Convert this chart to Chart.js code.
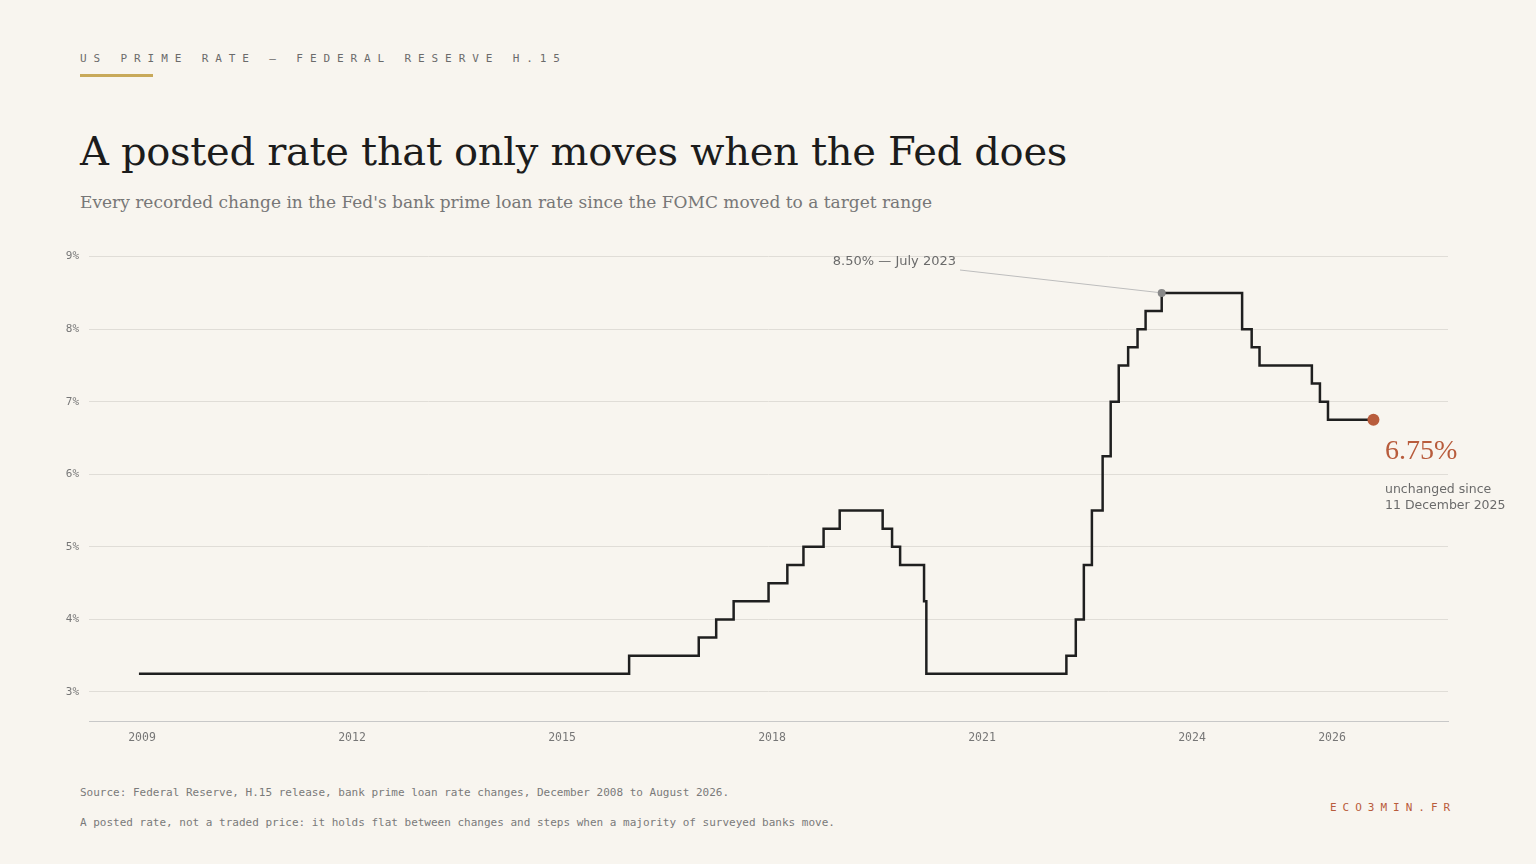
<!DOCTYPE html>
<html><head><meta charset="utf-8">
<script src="https://cdn.jsdelivr.net/npm/chart.js@4"></script>
<style>
body{margin:0;background:#f8f5ef;width:1536px;height:864px;position:relative;overflow:hidden;font-family:"DejaVu Sans",sans-serif}
.kick{position:absolute;left:80px;top:52px;font:11px "DejaVu Sans Mono",monospace;letter-spacing:6.9px;color:#6b6b6b}
.bar{position:absolute;left:80px;top:74px;width:73px;height:3px;background:#c8a95a}
h1{position:absolute;left:80px;top:128px;margin:0;font:400 40px "DejaVu Serif","Liberation Serif",serif;color:#1c1c1c;letter-spacing:-0.3px}
.sub{position:absolute;left:80px;top:192px;font:17px "DejaVu Serif","Liberation Serif",serif;color:#777}
.src{position:absolute;left:80px;font:11px "DejaVu Sans Mono",monospace;color:#7a7a7a}
.brand{position:absolute;left:1330px;top:801px;font:11px "DejaVu Sans Mono",monospace;letter-spacing:6px;color:#b85c3c}
canvas{position:absolute;left:0;top:240px}
</style></head><body>
<div class="kick">US PRIME RATE — FEDERAL RESERVE H.15</div>
<div class="bar"></div>
<h1>A posted rate that only moves when the Fed does</h1>
<div class="sub">Every recorded change in the Fed's bank prime loan rate since the FOMC moved to a target range</div>
<div class="src" style="top:786px">Source: Federal Reserve, H.15 release, bank prime loan rate changes, December 2008 to August 2026.</div>
<div class="src" style="top:816px">A posted rate, not a traded price: it holds flat between changes and steps when a majority of surveyed banks move.</div>
<div class="brand">ECO3MIN.FR</div>
<canvas id="c" width="1536" height="520"></canvas>
<script>
const changeDates = ["2008-12-16","2015-12-17","2016-12-15","2017-03-16","2017-06-15","2017-12-14","2018-03-22","2018-06-14","2018-09-27","2018-12-20","2019-08-01","2019-09-19","2019-10-31","2020-03-04","2020-03-16","2022-03-17","2022-05-05","2022-06-16","2022-07-28","2022-09-22","2022-11-03","2022-12-15","2023-02-02","2023-03-23","2023-05-04","2023-07-27","2024-09-19","2024-11-08","2024-12-19","2025-09-18","2025-10-30","2025-12-11","2026-08-05"];
const rates = [3.25,3.5,3.75,4.0,4.25,4.5,4.75,5.0,5.25,5.5,5.25,5.0,4.75,4.25,3.25,3.5,4.0,4.75,5.5,6.25,7.0,7.5,7.75,8.0,8.25,8.5,8.0,7.75,7.5,7.25,7.0,6.75,6.75];
const xTicks = [2009,2012,2015,2018,2021,2024,2026];
const yTicks = [3,4,5,6,7,8,9];
const peakIndex = 25;

function toYear(s){const d=new Date(s+"T00:00:00Z");const y=d.getUTCFullYear();const a=Date.UTC(y,0,1),b=Date.UTC(y+1,0,1);return y+(d-a)/(b-a);}
const pts = changeDates.map((d,i)=>({x:toYear(d),y:rates[i]}));
const last = pts.length-1;
const orange="#b85c3c";

const annot={id:'annot',afterDatasetsDraw(ch){
  const c=ch.ctx,xs=ch.scales.x,ys=ch.scales.y;
  const px=xs.getPixelForValue(pts[peakIndex].x),py=ys.getPixelForValue(pts[peakIndex].y);
  c.save();
  c.strokeStyle="#bdbdbd";c.lineWidth=1;c.beginPath();c.moveTo(960,30);c.lineTo(px,py);c.stroke();
  c.fillStyle="#888";c.beginPath();c.arc(px,py,4,0,Math.PI*2);c.fill();
  c.font="13px 'DejaVu Sans',sans-serif";c.fillStyle="#6b6b6b";c.textAlign="right";c.textBaseline="middle";
  c.fillText("8.50% — July 2023",956,22);
  const ex=xs.getPixelForValue(pts[last].x),ey=ys.getPixelForValue(pts[last].y);
  c.fillStyle=orange;c.beginPath();c.arc(ex,ey,6,0,Math.PI*2);c.fill();
  c.textAlign="left";c.font="28px 'Liberation Serif','DejaVu Serif',serif";
  c.fillText(rates[last].toFixed(2)+"%",1385,ey+32);
  c.fillStyle="#6b6b6b";c.font="12.5px 'DejaVu Sans',sans-serif";
  c.fillText("unchanged since",1385,ey+70);
  c.fillText("11 December 2025",1385,ey+86);
  c.restore();
}};

new Chart(document.getElementById('c'),{
  type:'line',
  data:{datasets:[{data:pts,stepped:'before',borderColor:'#1f1f1f',borderWidth:2.5,pointRadius:0,fill:false}]},
  options:{responsive:false,animation:false,
    layout:{padding:{top:16,right:88,left:0,bottom:0}},
    plugins:{legend:{display:false},tooltip:{enabled:false}},
    scales:{
      x:{type:'linear',min:2008.243,max:2027.657,
        afterBuildTicks(s){s.ticks=xTicks.map(v=>({value:v}));},
        afterFit(s){s.height=39;},
        grid:{display:false,drawTicks:false},border:{color:'#c8c8c8',width:1},
        ticks:{padding:10,color:'#777',font:{family:'DejaVu Sans Mono',size:11.5},callback:v=>String(v)}},
      y:{min:2.6,max:9,
        afterBuildTicks(s){s.ticks=yTicks.map(v=>({value:v}));},
        afterFit(s){s.width=89;},
        grid:{color:'#e0ddd7',drawTicks:false},border:{display:false},
        ticks:{padding:10,color:'#777',font:{family:'DejaVu Sans Mono',size:11},callback:v=>v+'%'}}
    }},
  plugins:[annot]
});
</script></body></html>
